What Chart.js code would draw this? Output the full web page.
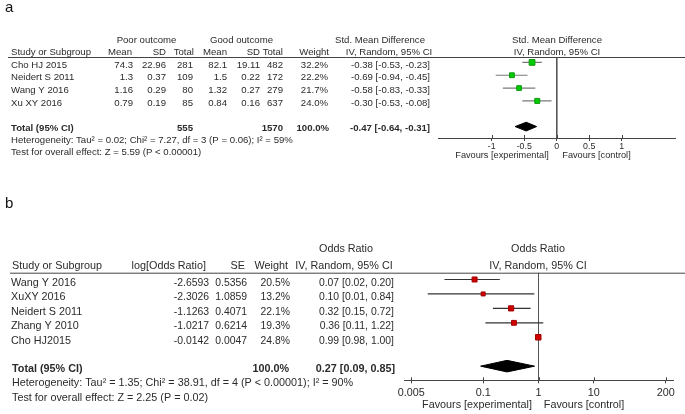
<!DOCTYPE html>
<html>
<head>
<meta charset="utf-8">
<script src="https://cdn.jsdelivr.net/npm/chart.js@4.4.0/dist/chart.umd.min.js"></script>
<style>
  html, body { margin: 0; padding: 0; background: #fff; }
  #wrap { position: relative; width: 685px; height: 414px; }
  #wrap canvas { position: absolute; left: 0; top: 0; }
</style>
</head>
<body>
<div id="wrap">
  <canvas id="chartA" width="685" height="414"></canvas>
  <canvas id="chartB" width="685" height="414"></canvas>
</div>
<script>
// ---- Panel a: std. mean difference ----
const studiesA = ["Cho HJ 2015", "Neidert S 2011", "Wang Y 2016", "Xu XY 2016"];
const poorMeanA = ["74.3", "1.3", "1.16", "0.79"];
const poorSdA = ["22.96", "0.37", "0.29", "0.19"];
const poorNA = ["281", "109", "80", "85"];
const goodMeanA = ["82.1", "1.5", "1.32", "0.84"];
const goodSdA = ["19.11", "0.22", "0.27", "0.16"];
const goodNA = ["482", "172", "279", "637"];
const weightA = [32.2, 22.2, 21.7, 24.0];
const smdA = [-0.38, -0.69, -0.58, -0.30];
const lowA = [-0.53, -0.94, -0.83, -0.53];
const highA = [-0.23, -0.45, -0.33, -0.08];
const totalA = { est: -0.47, low: -0.64, high: -0.31, poorN: "555", goodN: "1570" };
const tickValsA = [-1, -0.5, 0, 0.5, 1];
const tickLabelsA = ["-1", "-0.5", "0", "0.5", "1"];

// ---- Panel b: odds ratio ----
const studiesB = ["Wang Y 2016", "XuXY 2016", "Neidert S 2011", "Zhang Y 2010", "Cho HJ2015"];
const logOrB = ["-2.6593", "-2.3026", "-1.1263", "-1.0217", "-0.0142"];
const seB = ["0.5356", "1.0859", "0.4071", "0.6214", "0.0047"];
const weightB = [20.5, 13.2, 22.1, 19.3, 24.8];
const orB = [0.07, 0.10, 0.32, 0.36, 0.99];
const lowB = [0.02, 0.01, 0.15, 0.11, 0.98];
const highB = [0.20, 0.84, 0.72, 1.22, 1.00];
const totalB = { est: 0.27, low: 0.09, high: 0.85 };
const tickValsB = [0.005, 0.1, 1, 10, 200];
const tickLabelsB = ["0.005", "0.1", "1", "10", "200"];

const TEXT = "#2b2b2b";
const LINE = "#444";
const FAM = "Arial, 'Liberation Sans', sans-serif";
const FA = "9.6px " + FAM;
const FA_B = "bold 9.6px " + FAM;
const FA_F = "9.2px " + FAM;
const FB = "10.8px " + FAM;
const FB_N = "10.4px " + FAM;
const FB_B = "bold 10.8px " + FAM;

function fmt2(v) {
  return v.toFixed(2);
}

function txt(ctx, s, x, y, align, font) {
  ctx.font = font;
  ctx.textAlign = align;
  ctx.textBaseline = "middle";
  ctx.fillStyle = TEXT;
  ctx.fillText(s, x, y);
}

// header rule on top of the plot area + small tick stubs above the axis line
function frameDecor(chart, ruleLeft) {
  const ctx = chart.ctx;
  const area = chart.chartArea;
  const xs = chart.scales.x;
  ctx.save();
  ctx.strokeStyle = LINE;
  ctx.lineWidth = 1;
  ctx.beginPath();
  ctx.moveTo(ruleLeft, area.top + 0.5);
  ctx.lineTo(685, area.top + 0.5);
  xs.ticks.forEach((t) => {
    const px = Math.round(xs.getPixelForValue(t.value)) + 0.5;
    ctx.moveTo(px, area.bottom - 3);
    ctx.lineTo(px, area.bottom);
  });
  ctx.stroke();
  ctx.restore();
}

function ciDatasets(lows, highs, color) {
  return lows.map((lo, i) => ({
    type: "line",
    data: [{ x: lo, y: i }, { x: highs[i], y: i }],
    borderColor: color,
    borderWidth: 1.2,
    pointRadius: 0,
    order: 2,
  }));
}

function diamond(t, row, half) {
  return {
    type: "line",
    data: [
      { x: t.low, y: row },
      { x: t.est, y: row - half },
      { x: t.high, y: row },
      { x: t.est, y: row + half },
      { x: t.low, y: row },
    ],
    borderColor: "#000",
    backgroundColor: "#000",
    borderWidth: 1,
    fill: "shape",
    pointRadius: 0,
    order: 1,
  };
}

function xAxis(type, min, max, vals, labels, size, pad) {
  return {
    type: type,
    min: min,
    max: max,
    afterBuildTicks: (s) => { s.ticks = vals.map((v) => ({ value: v })); },
    afterFit: (s) => { s.height = 20; },
    grid: { drawOnChartArea: false, tickLength: 3, color: LINE },
    border: { color: LINE, width: 1 },
    ticks: {
      callback: (v, i) => labels[i],
      autoSkip: false,
      maxRotation: 0,
      padding: pad,
      color: TEXT,
      font: { family: FAM, size: size },
    },
  };
}

/* --------------------------
   Panel a
   -------------------------- */
const rowTotalA = 5;
const tableA = {
  id: "tableA",
  afterDraw(chart) {
    const ctx = chart.ctx;
    const ys = chart.scales.y;
    frameDecor(chart, 8);

    ctx.font = "15px " + FAM;
    ctx.fillStyle = "#111";
    ctx.textAlign = "left";
    ctx.textBaseline = "alphabetic";
    ctx.fillText("a", 5, 12);

    // headers
    txt(ctx, "Poor outcome", 146.5, 40, "center", FA);
    txt(ctx, "Good outcome", 241.5, 40, "center", FA);
    txt(ctx, "Std. Mean Difference", 380, 40, "center", FA);
    txt(ctx, "Std. Mean Difference", 557, 40, "center", FA);
    txt(ctx, "Study or Subgroup", 11, 52.5, "left", FA);
    txt(ctx, "Mean", 132, 52.5, "right", FA);
    txt(ctx, "SD", 166, 52.5, "right", FA);
    txt(ctx, "Total", 194, 52.5, "right", FA);
    txt(ctx, "Mean", 227, 52.5, "right", FA);
    txt(ctx, "SD", 260, 52.5, "right", FA);
    txt(ctx, "Total", 283, 52.5, "right", FA);
    txt(ctx, "Weight", 329, 52.5, "right", FA);
    txt(ctx, "IV, Random, 95% CI", 389, 52.5, "center", FA);
    txt(ctx, "IV, Random, 95% CI", 557, 52.5, "center", FA);

    studiesA.forEach((name, i) => {
      const y = ys.getPixelForValue(i) + 2.5;
      txt(ctx, name, 11, y, "left", FA);
      txt(ctx, poorMeanA[i], 133, y, "right", FA);
      txt(ctx, poorSdA[i], 166, y, "right", FA);
      txt(ctx, poorNA[i], 193, y, "right", FA);
      txt(ctx, goodMeanA[i], 227, y, "right", FA);
      txt(ctx, goodSdA[i], 260, y, "right", FA);
      txt(ctx, goodNA[i], 283, y, "right", FA);
      txt(ctx, weightA[i].toFixed(1) + "%", 328, y, "right", FA);
      txt(ctx, fmt2(smdA[i]) + " [" + fmt2(lowA[i]) + ", " + fmt2(highA[i]) + "]", 430, y, "right", FA);
    });

    const yt = ys.getPixelForValue(rowTotalA) + 2;
    txt(ctx, "Total (95% CI)", 11, yt, "left", FA_B);
    txt(ctx, totalA.poorN, 193, yt, "right", FA_B);
    txt(ctx, totalA.goodN, 283, yt, "right", FA_B);
    txt(ctx, "100.0%", 329, yt, "right", FA_B);
    txt(ctx, fmt2(totalA.est) + " [" + fmt2(totalA.low) + ", " + fmt2(totalA.high) + "]", 430, yt, "right", FA_B);
    txt(ctx, "Heterogeneity: Tau\u00b2 = 0.02; Chi\u00b2 = 7.27, df = 3 (P = 0.06); I\u00b2 = 59%", 11, yt + 12, "left", FA);
    txt(ctx, "Test for overall effect: Z = 5.59 (P < 0.00001)", 11, yt + 24, "left", FA);

    txt(ctx, "Favours [experimental]", 502, 155.3, "center", FA_F);
    txt(ctx, "Favours [control]", 596.5, 155.3, "center", FA_F);
  },
};

new Chart(document.getElementById("chartA"), {
  type: "line",
  data: {
    datasets: [
      {
        type: "scatter",
        data: smdA.map((v, i) => ({ x: v, y: i })),
        pointStyle: "rect",
        pointRadius: weightA.map((w) => Math.sqrt(w) * 0.72),
        pointBackgroundColor: "#00cc00",
        pointBorderColor: "#119911",
        pointBorderWidth: 1,
        order: 0,
      },
      diamond(totalA, rowTotalA, 0.34),
      ...ciDatasets(lowA, highA, "#7a7a7a"),
      {
        type: "line",
        data: [{ x: 0, y: -0.42 }, { x: 0, y: 5.89 }],
        borderColor: "#555",
        borderWidth: 1,
        pointRadius: 0,
        order: 3,
      },
    ],
  },
  options: {
    responsive: false,
    animation: false,
    layout: { padding: { left: 438.5, right: 10, top: 57, bottom: 414 - 138 - 20 } },
    plugins: { legend: { display: false }, tooltip: { enabled: false } },
    scales: {
      x: xAxis("linear", -1.82, 1.82, tickValsA, tickLabelsA, 8.8, 0),
      y: { type: "linear", display: false, reverse: true, min: -0.42, max: 5.89 },
    },
  },
  plugins: [tableA],
});

/* --------------------------
   Panel b
   -------------------------- */
const rowTotalB = 6;
const tableB = {
  id: "tableB",
  afterDraw(chart) {
    const ctx = chart.ctx;
    const ys = chart.scales.y;
    frameDecor(chart, 10);

    ctx.font = "15px " + FAM;
    ctx.fillStyle = "#111";
    ctx.textAlign = "left";
    ctx.textBaseline = "alphabetic";
    ctx.fillText("b", 5, 208);

    txt(ctx, "Odds Ratio", 346, 249, "center", FB);
    txt(ctx, "Odds Ratio", 538, 249, "center", FB);
    txt(ctx, "Study or Subgroup", 12, 266.5, "left", FB);
    txt(ctx, "log[Odds Ratio]", 206, 266.5, "right", FB);
    txt(ctx, "SE", 245, 266.5, "right", FB);
    txt(ctx, "Weight", 288, 266.5, "right", FB);
    txt(ctx, "IV, Random, 95% CI", 344, 266.5, "center", FB);
    txt(ctx, "IV, Random, 95% CI", 538, 266.5, "center", FB);

    studiesB.forEach((name, i) => {
      const y = ys.getPixelForValue(i) + 3.5;
      txt(ctx, name, 11, y, "left", FB);
      txt(ctx, logOrB[i], 209, y, "right", FB_N);
      txt(ctx, seB[i], 247, y, "right", FB_N);
      txt(ctx, weightB[i].toFixed(1) + "%", 290, y, "right", FB_N);
      txt(ctx, fmt2(orB[i]) + " [" + fmt2(lowB[i]) + ", " + fmt2(highB[i]) + "]", 394, y, "right", FB_N);
    });

    const yt = ys.getPixelForValue(rowTotalB) + 2.5;
    txt(ctx, "Total (95% CI)", 12, yt, "left", FB_B);
    txt(ctx, "100.0%", 289, yt, "right", FB_B);
    txt(ctx, fmt2(totalB.est) + " [" + fmt2(totalB.low) + ", " + fmt2(totalB.high) + "]", 395, yt, "right", FB_B);
    txt(ctx, "Heterogeneity: Tau\u00b2 = 1.35; Chi\u00b2 = 38.91, df = 4 (P < 0.00001); I\u00b2 = 90%", 12, yt + 14.5, "left", FB);
    txt(ctx, "Test for overall effect: Z = 2.25 (P = 0.02)", 12, yt + 29, "left", FB);

    txt(ctx, "Favours [experimental]", 477, 405, "center", FB);
    txt(ctx, "Favours [control]", 584, 405, "center", FB);
  },
};

new Chart(document.getElementById("chartB"), {
  type: "line",
  data: {
    datasets: [
      {
        type: "scatter",
        data: orB.map((v, i) => ({ x: v, y: i })),
        pointStyle: "rect",
        pointRadius: weightB.map((w) => Math.sqrt(w) * 0.78),
        pointBackgroundColor: "#d10000",
        pointBorderColor: "#a00000",
        pointBorderWidth: 1,
        order: 0,
      },
      diamond(totalB, rowTotalB, 0.4),
      ...ciDatasets(lowB, highB, "#333"),
      {
        type: "line",
        data: [{ x: 1, y: -0.47 }, { x: 1, y: 6.98 }],
        borderColor: "#555",
        borderWidth: 1,
        pointRadius: 0,
        order: 3,
      },
    ],
  },
  options: {
    responsive: false,
    animation: false,
    layout: { padding: { left: 404, right: 12, top: 272.7, bottom: 414 - 380.3 - 20 } },
    plugins: { legend: { display: false }, tooltip: { enabled: false } },
    scales: {
      x: xAxis("logarithmic", Math.pow(10, -2.43), Math.pow(10, 2.43), tickValsB, tickLabelsB, 10.8, 3.5),
      y: { type: "linear", display: false, reverse: true, min: -0.47, max: 6.98 },
    },
  },
  plugins: [tableB],
});
</script>
</body>
</html>
